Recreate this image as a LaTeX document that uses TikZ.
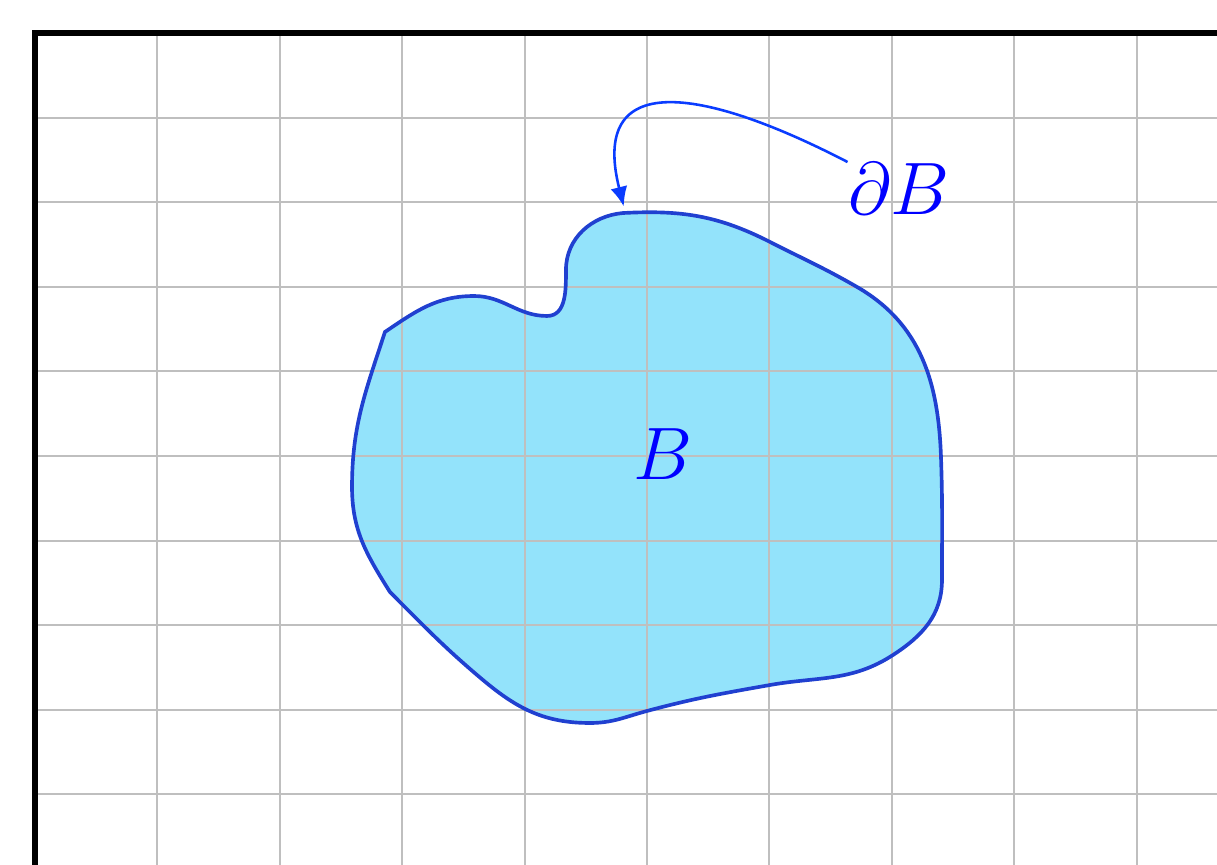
\documentclass[tikz,border=0pt]{standalone}
\usetikzlibrary{arrows.meta}
\definecolor{regionfill}{RGB}{147,227,251}
\definecolor{regionedge}{RGB}{32,64,208}
\definecolor{pointer}{RGB}{10,60,255}
\newcommand\regionpath{(2.859,-3.534) to[out=34,in=180] (3.587,-3.109) to[out=0,in=180] (4.183,-3.345)
  to[out=0,in=-90] (4.338,-2.801) to[out=90,in=185] (4.804,-2.128) to[out=3,in=153] (6.005,-2.470)
  to[out=-27,in=150] (6.716,-3.002) to[out=-30,in=92] (7.402,-5.012) to[out=-88,in=90] (7.410,-6.466)
  to[out=-90,in=33] (7.010,-7.352) to[out=213,in=10] (6.005,-7.707) to[out=190,in=15] (5.000,-8.014)
  to[out=195,in=0] (4.534,-8.156) to[out=180,in=-40] (3.660,-7.648) to[out=140,in=-45] (2.900,-6.608)
  to[out=122,in=-90] (2.590,-5.366) to[out=90,in=-108] (2.859,-3.534) -- cycle}
\begin{document}
\begin{tikzpicture}[x=1cm,y=0.6912cm,
  setlabel/.style={text=blue,font=\LARGE,inner sep=0pt}]
\useasboundingbox (-0.286,0.390) rectangle (9.657,-9.823);
\clip (-0.286,0.390) rectangle (9.657,-9.823);

\coordinate (tip) at (4.81,-2.05);

\fill[regionfill] \regionpath;
\foreach \i in {1,...,10} {
  \draw[black!25,line width=0.46pt] (\i,0) -- (\i,-10);
  \draw[black!25,line width=0.46pt] (0,-\i) -- (10,-\i);
}
\draw[regionedge,line width=0.85pt] \regionpath;
\draw[line width=1.4pt] (0,-10) -- (0,0) -- (10,0);

\node[setlabel] (B) at (5.13,-4.98) {$B$};
\node[setlabel] (dB) at (7.06,-1.84) {$\partial B$};
\draw[pointer,line width=0.6pt,-{Latex[length=1.6mm,width=1.4mm]}] (dB.north west) .. controls (5.43,-0.62) and (4.53,-0.44) .. (tip);
\end{tikzpicture}
\end{document}
